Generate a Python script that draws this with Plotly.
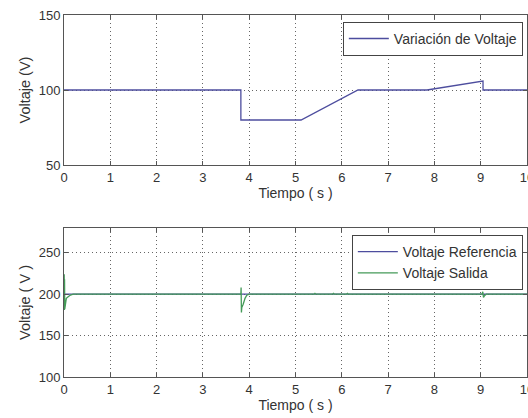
import plotly.graph_objects as go
from plotly.subplots import make_subplots

# ---- data ----
t_var = [0, 3.82, 3.82, 5.12, 6.35, 7.84, 9.05, 9.05, 10]
v_var = [100, 100, 80, 80, 100, 100, 106, 100, 100]

t_ref = [0, 10]
v_ref = [200, 200]

t_out = [0, 0.004, 0.008, 0.012, 0.016, 0.05, 0.09, 0.14, 0.2,
         3.82, 3.825, 3.832, 3.84, 3.87, 3.91, 3.95, 4.0,
         5.40, 5.42, 5.44, 5.80, 5.82, 5.84, 6.10, 6.12, 6.14,
         9.03, 9.045, 9.06, 9.08, 9.12, 10]
v_out = [200, 224, 181, 218, 182, 195, 197, 199, 200,
         200, 208, 178, 184, 188, 195, 199, 200,
         200, 201, 200, 200, 201, 200, 200, 201, 200,
         200, 203, 196, 198, 200, 200]

x_ticks = [0, 1, 2, 3, 4, 5, 6, 7, 8, 9, 10]
y_ticks_top = [50, 100, 150]
y_ticks_bot = [100, 150, 200, 250]

BLUE = "#4d4d9e"
GREEN = "#449a58"
FRAME = "#555555"
TXT = "#333333"
FONT = "Liberation Sans, Arial, sans-serif"

fig = make_subplots(rows=2, cols=1)

fig.add_trace(go.Scatter(x=t_var, y=v_var, mode="lines", name="Variación de Voltaje",
                         line=dict(color=BLUE, width=1.3), legend="legend"), row=1, col=1)
fig.add_trace(go.Scatter(x=t_ref, y=v_ref, mode="lines", name="Voltaje Referencia",
                         line=dict(color=BLUE, width=1.3), legend="legend2"), row=2, col=1)
fig.add_trace(go.Scatter(x=t_out, y=v_out, mode="lines", name="Voltaje Salida",
                         line=dict(color=GREEN, width=1.3), legend="legend2"), row=2, col=1)

axis_common = dict(showline=True, linecolor=FRAME, linewidth=1, mirror="ticks",
                   ticks="inside", ticklen=4, tickcolor=FRAME,
                   showgrid=True, gridcolor="#666666", griddash="1px,3px", gridwidth=1,
                   zeroline=False, tickfont=dict(family=FONT, size=13, color=TXT),
                   ticklabeloverflow="allow", automargin=False)

for r in (1, 2):
    fig.update_xaxes(range=[0, 10], tickvals=x_ticks, row=r, col=1,
                     title=dict(text="Tiempo ( s )", font=dict(family=FONT, size=14, color=TXT), standoff=2),
                     **axis_common)

fig.update_yaxes(range=[50, 150], tickvals=y_ticks_top, row=1, col=1,
                 title=dict(text="Voltaje (V)", font=dict(family=FONT, size=14.5, color=TXT), standoff=4),
                 **axis_common)
fig.update_yaxes(range=[100, 280], tickvals=y_ticks_bot, row=2, col=1,
                 title=dict(text="Voltaje ( V )", font=dict(family=FONT, size=14.5, color=TXT), standoff=4),
                 **axis_common)

fig.update_layout(
    width=528, height=418,
    margin=dict(l=64, r=1, t=15, b=41, autoexpand=False),
    paper_bgcolor="white", plot_bgcolor="white",
    xaxis=dict(domain=[0, 1]), xaxis2=dict(domain=[0, 1]),
    yaxis=dict(domain=[0.5856, 1.0]), yaxis2=dict(domain=[0.0, 0.4116]),
    legend=dict(x=0.991, y=0.981, xanchor="right", yanchor="top",
                bordercolor="#444444", borderwidth=1, bgcolor="white",
                font=dict(family=FONT, size=14, color=TXT),
                tracegroupgap=0, itemwidth=40),
    legend2=dict(x=0.991, y=0.392, xanchor="right", yanchor="top",
                 bordercolor="#444444", borderwidth=1, bgcolor="white",
                 font=dict(family=FONT, size=14, color=TXT),
                 tracegroupgap=0, itemwidth=40),
    showlegend=True,
)

fig.write_html("out.html")
